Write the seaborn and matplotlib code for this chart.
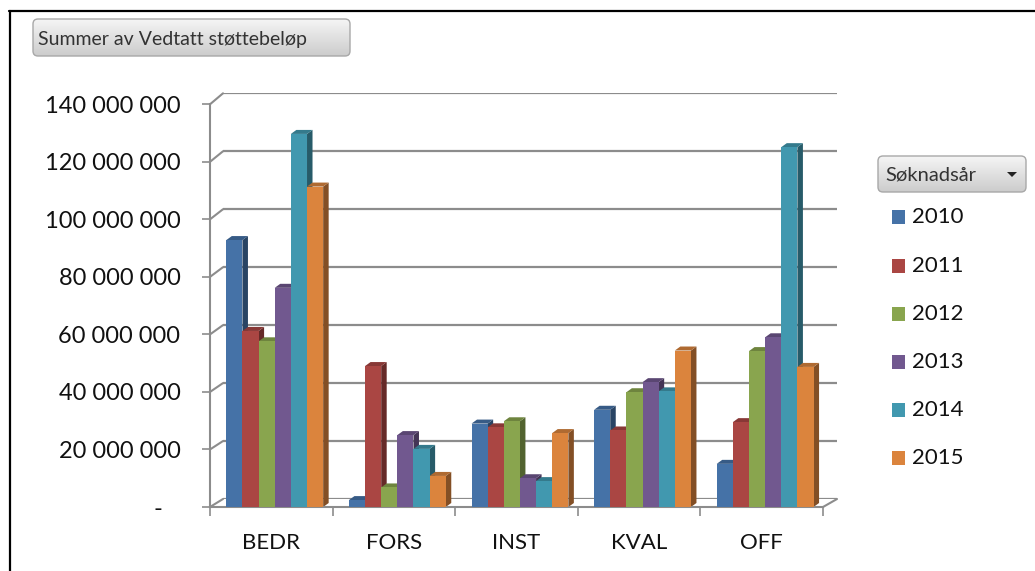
import numpy as np
import pandas as pd
import seaborn as sns
import matplotlib.pyplot as plt
from matplotlib.patches import Polygon, FancyBboxPatch, Rectangle
from matplotlib.lines import Line2D
from matplotlib.colors import to_rgb

# data (millioner kr), lest av diagrammet
kategorier = ['BEDR', 'FORS', 'INST', 'KVAL', 'OFF']
aar = ['2010', '2011', '2012', '2013', '2014', '2015']
v2010 = [92.8, 2.4, 29.0, 33.8, 15.0]
v2011 = [61.2, 49.0, 27.7, 26.6, 29.5]
v2012 = [57.6, 6.8, 29.8, 39.9, 54.2]
v2013 = [76.2, 25.0, 10.0, 43.4, 59.0]
v2014 = [129.7, 20.2, 9.0, 40.2, 125.1]
v2015 = [111.4, 10.8, 25.7, 54.4, 48.7]
farger = ['#4572A7', '#AA4643', '#89A54E', '#71588F', '#4198AF', '#DB843D']
y_ticks = [0, 20e6, 40e6, 60e6, 80e6, 100e6, 120e6, 140e6]
y_labels = ['-   ', '20 000 000', '40 000 000', '60 000 000', '80 000 000',
            '100 000 000', '120 000 000', '140 000 000']
tittel = 'Summer av Vedtatt støttebeløp'
legend_tittel = 'Søknadsår'

rows = []
for a, vals in zip(aar, [v2010, v2011, v2012, v2013, v2014, v2015]):
    for k, v in zip(kategorier, vals):
        rows.append({'kategori': k, 'aar': a, 'belop': v * 1e6})
df = pd.DataFrame(rows)

sns.set_theme(style='white')
plt.rcParams['font.family'] = ['Lato', 'DejaVu Sans']

W, H = 1035, 571
fig = plt.figure(figsize=(W / 100, H / 100), dpi=100)
grey = '#8c8c8c'


def px(x, y):
    # pixel (from top-left) -> inches for fig.dpi_scale_trans
    return x / 100, (H - y) / 100


def button(x0, y0, x1, y1):
    # grey rounded button with a soft vertical gradient
    bx, by = px(x0, y1)
    box = FancyBboxPatch((bx, by), (x1 - x0) / 100, (y1 - y0) / 100,
                         boxstyle='round,pad=0,rounding_size=0.05',
                         transform=fig.dpi_scale_trans, fc='none', ec='#a8a8a8', lw=1, zorder=6)
    bax = fig.add_axes([x0 / W, 1 - y1 / H, (x1 - x0) / W, (y1 - y0) / H])
    bax.axis('off')
    bax.set_zorder(5)
    grad = np.linspace(0, 1, 50).reshape(-1, 1)
    im = bax.imshow(grad, cmap=sns.blend_palette(['#f5f5f5', '#cccccc'], as_cmap=True),
                    aspect='auto', extent=[0, 1, 0, 1], origin='upper')
    im.set_clip_path(box)
    fig.add_artist(box)


# back wall with gridlines
back = fig.add_axes([223 / W, 1 - 499 / H, (837 - 223) / W, (499 - 93.3) / H])
back.set_xlim(0, 1)
back.set_ylim(0, 140e6)
back.hlines(y_ticks, 0, 1, color=grey, lw=1.6)
back.axis('off')
back.set_zorder(0)

# front plane
ax = fig.add_axes([210 / W, 1 - 507 / H, 613 / W, (507 - 104.3) / H], facecolor='none')
ax.set_zorder(1)
sns.barplot(data=df, x='kategori', y='belop', hue='aar', order=kategorier, hue_order=aar,
            palette=farger, width=0.79, saturation=1, errorbar=None, legend=False,
            linewidth=0, zorder=3, ax=ax)
s = 0.028
ax.set_xlim(-0.5 - s, 4.5 - s)
ax.set_ylim(0, 140e6)
ax.set_xlabel('')
ax.set_ylabel('')

# 3D sides and tops of the bars
dx, dy = 5.5, 4
inv = ax.transData.inverted()
for cont, col in zip(ax.containers, farger):
    r, g, b = to_rgb(col)
    side_c = (r * 0.6, g * 0.6, b * 0.6)
    top_c = (r * 0.8, g * 0.8, b * 0.8)
    for p in cont:
        x0 = p.get_x()
        x1 = x0 + p.get_width()
        h = p.get_height()
        (X0, Y0), (X1, Y1) = ax.transData.transform([(x0, 0), (x1, h)])
        side = [(X1, Y0), (X1, Y1), (X1 + dx, Y1 + dy), (X1 + dx, Y0 + dy)]
        top = [(X0, Y1), (X1, Y1), (X1 + dx, Y1 + dy), (X0 + dx, Y1 + dy)]
        ax.add_patch(Polygon(inv.transform(side), closed=True, fc=side_c, ec='none',
                             zorder=2, clip_on=False))
        ax.add_patch(Polygon(inv.transform(top), closed=True, fc=top_c, ec='none',
                             zorder=2, clip_on=False))

ax.set_yticks(y_ticks, y_labels)
ax.set_xticks([i - s for i in range(len(kategorier))], kategorier)
ax.set_xticks([i - 0.5 - s for i in range(len(kategorier) + 1)], minor=True)
ax.tick_params(axis='y', length=5.8, width=1.2, color=grey, pad=15.5, labelsize=17,
               labelcolor='#111111', left=True)
ax.tick_params(axis='x', which='major', length=0, pad=19, labelsize=16, labelcolor='#111111')
ax.tick_params(axis='x', which='minor', length=6.5, width=1.2, color=grey, bottom=True)
for sp in ['top', 'right']:
    ax.spines[sp].set_visible(False)
for sp in ['left', 'bottom']:
    ax.spines[sp].set_color(grey)
    ax.spines[sp].set_linewidth(1.5)

# diagonals between front axis and back wall
for t in y_ticks:
    yf = 507 - t / 140e6 * (507 - 104.3)
    yb = 499 - t / 140e6 * (499 - 93.3)
    fig.add_artist(Line2D([210 / 100, 223 / 100], [(H - yf) / 100, (H - yb) / 100],
                          transform=fig.dpi_scale_trans, color=grey, lw=1.5))
fig.add_artist(Line2D([823 / 100, 837 / 100], [(H - 507) / 100, (H - 499) / 100],
                      transform=fig.dpi_scale_trans, color=grey, lw=1.5))

# frame
fig.add_artist(Line2D([0.09, W / 100], [(H - 11) / 100] * 2, transform=fig.dpi_scale_trans,
                      color='black', lw=1.6))
fig.add_artist(Line2D([0.10, 0.10], [0, (H - 11) / 100], transform=fig.dpi_scale_trans,
                      color='black', lw=1.6))

# title button
button(33, 19, 350, 56)
tx, ty = px(38, 39)
fig.text(tx, ty, tittel, transform=fig.dpi_scale_trans, fontsize=14, color='#333333',
         va='center', ha='left', zorder=7)

# legend
button(878, 156, 1026, 192)
tx, ty = px(885, 175)
fig.text(tx, ty, legend_tittel, transform=fig.dpi_scale_trans, fontsize=14.5, color='#333333',
         va='center', ha='left', zorder=7)
arrow = [px(1007, 172), px(1017, 172), px(1012, 177)]
fig.add_artist(Polygon(arrow, closed=True, transform=fig.dpi_scale_trans, fc='#222222',
                       ec='none', zorder=7))

for i, (a, col) in enumerate(zip(aar, farger)):
    cy = 217.3 + i * 48.2
    rx, ry = px(892, cy + 7)
    fig.add_artist(Rectangle((rx, ry), 0.13, 0.14, transform=fig.dpi_scale_trans,
                             fc=col, ec='none'))
    tx, ty = px(912, cy)
    fig.text(tx, ty, a, transform=fig.dpi_scale_trans, fontsize=16, color='#111111',
             va='center', ha='left')

plt.savefig('out.png', dpi=100)
